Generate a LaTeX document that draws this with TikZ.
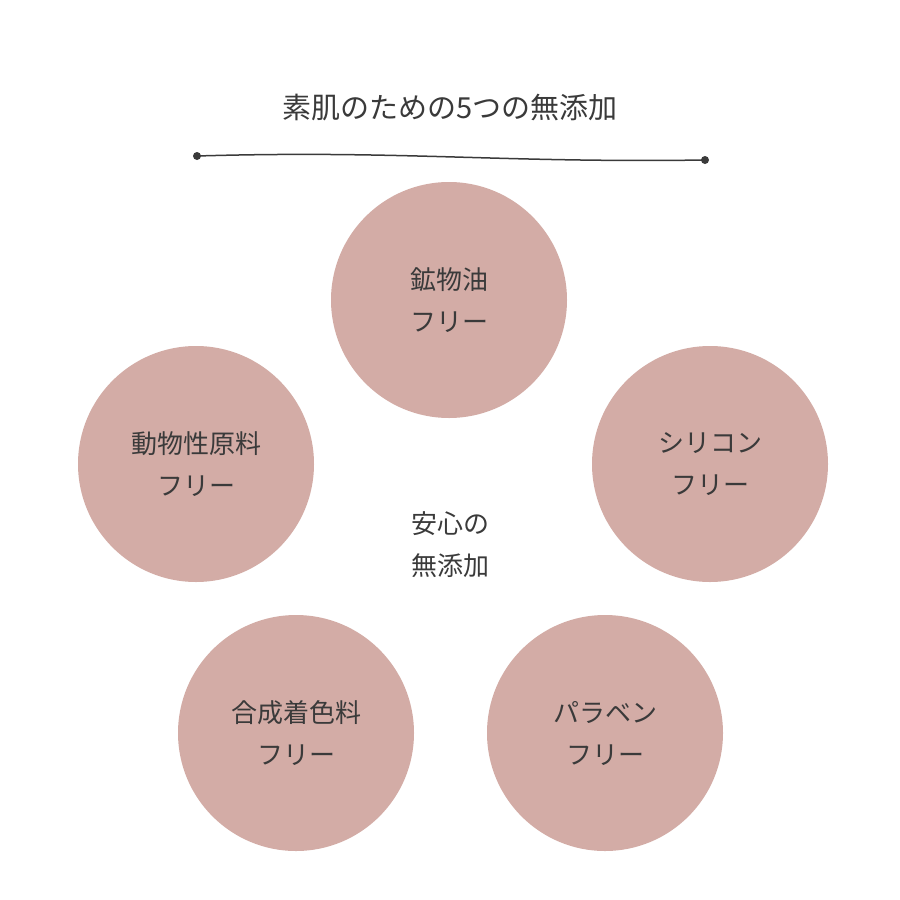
\documentclass[tikz,border=0pt]{standalone}
\usepackage{fontspec}
\newfontfamily\cjk{Noto Sans CJK JP}
\definecolor{pink}{HTML}{D3ACA6}
\definecolor{ink}{HTML}{3A3A3A}
\tikzset{blob/.style={circle,fill=pink,minimum size=236pt,inner sep=0pt},
lbl/.style={text=ink,font=\cjk\fontsize{26}{42}\selectfont,align=center}}
\begin{document}
\begin{tikzpicture}[x=1pt,y=-1pt]
\useasboundingbox (0,0) rectangle (900,900);
\node[blob] (a) at (449,300) {};
\node[blob] (b) at (196,464) {};
\node[blob] (c) at (710,464) {};
\node[blob] (d) at (296,733) {};
\node[blob] (e) at (605,733) {};
\node[lbl] at (a) {鉱物油\\フリー};
\node[lbl] at (b) {動物性原料\\フリー};
\node[lbl] at (c) {シリコン\\フリー};
\node[lbl] at (d) {合成着色料\\フリー};
\node[lbl] at (e) {パラベン\\フリー};
\node[lbl] (m) at (450,545) {安心の\\無添加};
\node[text=ink,font=\cjk\fontsize{29}{34}\selectfont] (t) at (450,108) {素肌のための5つの無添加};
\coordinate (l1) at (197,156); \coordinate (l2) at (705,160);
\draw[ink,line width=1.5pt] (l1) .. controls (400,150) and (500,163) .. (l2);
\fill[ink] (l1) circle (4pt) (l2) circle (4pt);
\end{tikzpicture}
\end{document}
